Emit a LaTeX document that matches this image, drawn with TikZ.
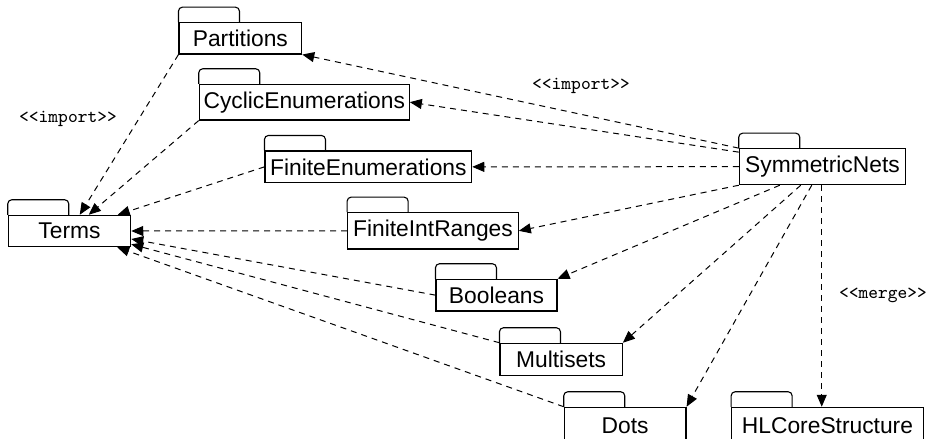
\documentclass[tikz,border=0pt]{standalone}
\usepackage{fontspec}
\setmainfont{Liberation Sans}
\usetikzlibrary{arrows.meta,calc}
\begin{document}
\begin{tikzpicture}[x=0.5pt,y=-0.5pt,
  pkg/.style={draw,line width=0.55pt,inner sep=0pt,font=\fontsize{11.4}{13}\selectfont},
  tabline/.style={draw,line width=0.55pt,rounded corners=2pt},
  dep/.style={line width=0.5pt,dash pattern=on 3pt off 2.5pt,-{Triangle[length=6pt,width=5pt]}},
  stereo/.style={inner sep=0pt,font=\ttfamily\fontsize{9.3}{11}\selectfont}]
\useasboundingbox (0,0) rectangle (928,439);
\clip (0,0) rectangle (928,439);
\newcommand\pkgtab[1]{\path[tabline] (#1.north west) -- ++(0,-15) -- ++(61,0) -- ++(0,15);}
% packages
\node[pkg,minimum width=61.35pt,minimum height=15.65pt] (part)  at (240.35,38.35) {Partitions};
\node[pkg,minimum width=105pt,minimum height=17.85pt]   (cyc)   at (304.3,102.15) {CyclicEnumerations};
\node[pkg,minimum width=103.35pt,minimum height=15.85pt] (fenum) at (368.35,166.85) {FiniteEnumerations};
\node[pkg,minimum width=85.3pt,minimum height=18.15pt]  (fir)   at (433,230.85) {FiniteIntRanges};
\node[pkg,minimum width=60.5pt,minimum height=15.85pt]  (bool)  at (496.5,295.15) {Booleans};
\node[pkg,minimum width=61.15pt,minimum height=16pt]    (multi) at (561.15,359.3) {Multisets};
\node[pkg,minimum width=60.85pt,minimum height=18pt]    (dots)  at (625.15,425.3) {Dots};
\node[pkg,minimum width=95.8pt,minimum height=18pt]     (hl)    at (827.5,425.3) {HLCoreStructure};
\node[pkg,minimum width=83.2pt,minimum height=18pt]     (sym)   at (822.5,166.7) {SymmetricNets};
\node[pkg,minimum width=61.2pt,minimum height=15.7pt]   (terms) at (69.5,231) {Terms};
\foreach \n in {part,cyc,fenum,fir,bool,multi,dots,hl,sym,terms} {\pkgtab{\n}}
% stereotype labels
\node[stereo] (l1) at (68,119) {<{}<import>{}>};
\node[stereo] (l2) at (581,86) {<{}<import>{}>};
\node[stereo] (l3) at (883,295) {<{}<merge>{}>};
% imports into Terms
\draw[dep] (part.south west) -- ($(terms.north west)+(72,0)$);
\draw[dep] (cyc.south west) -- ($(terms.north west)+(81,0)$);
\draw[dep] (fenum.west) -- ($(terms.north west)+(110,0)$);
\draw[dep] (fir.west) -- (terms.east);
\draw[dep] (bool.west) -- ($(terms.east)+(0,8)$);
\draw[dep] (multi.north west) -- ($(terms.south east)+(0,-3)$);
\draw[dep] (dots.north west) -- ($(terms.south east)+(-14,0)$);
% imports from SymmetricNets
\draw[dep] (sym.north west) -- (part.south east);
\draw[dep] ($(sym.north west)+(0,4)$) -- (cyc.east);
\draw[dep] (sym.west) -- (fenum.east);
\draw[dep] (sym.south west) -- (fir.east);
\draw[dep] ($(sym.south west)+(41,0)$) -- (bool.north east);
\draw[dep] ($(sym.south west)+(62,0)$) -- (multi.north east);
\draw[dep] ($(sym.south west)+(73,0)$) -- (dots.north east);
\coordinate (ms) at ($(sym.south west)+(83,0)$);
\draw[dep] (ms) -- (ms |- hl.north);
\end{tikzpicture}
\end{document}
